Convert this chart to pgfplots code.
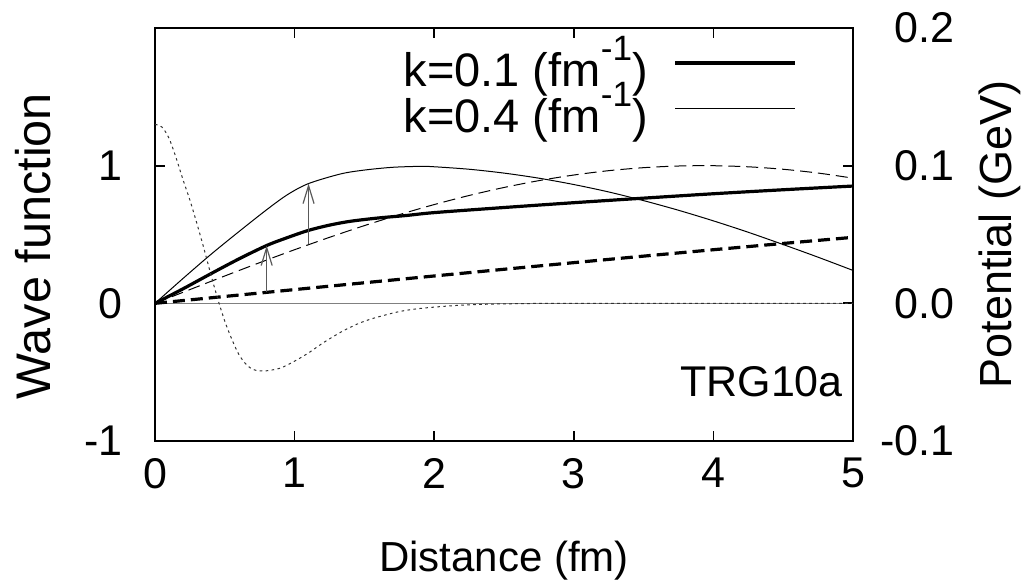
\documentclass[border=0pt]{standalone}
\usepackage{fontspec}
\setmainfont{Liberation Sans}
\usepackage{pgfplots}
\pgfplotsset{compat=1.18}
\usetikzlibrary{arrows.meta}
\newcommand{\bigf}{\fontsize{21}{25}\selectfont}
\newcommand{\tickf}{\fontsize{21.5}{25}\selectfont}
\newcommand{\legf}{\fontsize{23.5}{27}\selectfont}
\newcommand{\supr}[1]{\raisebox{13.3pt}{\fontsize{17.6}{20}\selectfont #1}}
\begin{document}
\begin{tikzpicture}[font=\bigf]
\useasboundingbox (-77.5pt,-70.5pt) rectangle (434pt,220.5pt);
\begin{axis}[
  at={(0pt,0pt)}, anchor=south west,
  scale only axis, width=349pt, height=206.5pt,
  xmin=0, xmax=5, ymin=-1, ymax=2,
  xtick={0,1,2,3,4,5}, xticklabels={0,1,2,3,4,5},
  ytick={-1,0,1}, yticklabels={-1,0,1},
  ytick pos=left,
  tick align=inside,
  major tick length=5pt,
  axis line style={line width=0.9pt},
  every tick/.style={black, line width=0.9pt},
  tick label style={font=\tickf},
  xticklabel style={anchor=north, inner sep=0pt, yshift=-8.5pt},
  yticklabel style={anchor=east, inner sep=0pt, xshift=-16pt},
  xlabel={Distance (fm)},
  xlabel style={font=\bigf, at={(axis description cs:0.5,-0.3172)}, anchor=base, inner sep=0pt},
  ylabel={Wave function},
  ylabel style={font=\fontsize{24.3}{28}\selectfont, at={(axis description cs:-0.1504,0.472)}, anchor=base, inner sep=0pt},
  legend style={draw=none, fill=none, at={(axis description cs:0.9198,0.9806)}, anchor=north east,
    inner sep=0pt, outer sep=0pt, row sep=-3.9pt, column sep=13pt, nodes={inner sep=0pt}, font=\legf},
  legend cell align=right,
  legend plot pos=right,
  legend image code/.code={\draw[#1] (0pt,0pt) -- (60pt,0pt);},
]
% zero line
\addplot[forget plot, gray, line width=0.6pt] coordinates {(0,0) (5,0)};
% free waves (dashed)
\addplot[forget plot, black, line width=1.6pt, dash pattern=on 6pt off 3pt] coordinates {
(0,0) (0.5,0.0500) (1.0,0.0998) (1.5,0.1494) (2.0,0.1987) (2.5,0.2474) (3.0,0.2955) (3.5,0.3429) (4.0,0.3894) (4.5,0.4350) (5.0,0.4794)};
\addplot[forget plot, black, line width=0.5pt, dash pattern=on 6pt off 3pt, smooth] coordinates {
(0,0) (0.25,0.0998) (0.5,0.1987) (0.75,0.2955) (1.0,0.3894) (1.25,0.4794) (1.5,0.5646) (1.75,0.6442) (2.0,0.7174) (2.25,0.7833) (2.5,0.8415) (2.75,0.8912) (3.0,0.9320) (3.25,0.9636) (3.5,0.9854) (3.75,0.9975) (4.0,0.9996) (4.25,0.9917) (4.5,0.9738) (4.75,0.9463) (5.0,0.9093)};
% interacting waves
\addplot[black, line width=1.6pt, smooth] coordinates {
(0,0) (0.2,0.105) (0.4,0.215) (0.6,0.322) (0.8,0.42) (0.95,0.478) (1.1,0.53) (1.25,0.568) (1.4,0.596) (1.6,0.62) (1.8,0.638) (2.0,0.659) (2.5,0.696) (3.0,0.731) (3.5,0.764) (4.0,0.796) (4.5,0.825) (5.0,0.852)};
\addlegendentry{k=0.1 (fm\supr{-1})}
\addplot[black, line width=0.5pt, smooth] coordinates {
(0,0) (0.2,0.18) (0.4,0.355) (0.6,0.52) (0.8,0.68) (0.95,0.79) (1.1,0.87) (1.33,0.94) (1.5,0.968) (1.7,0.988) (1.9,0.995) (2.0,0.992) (2.25,0.974) (2.5,0.946) (2.75,0.909) (3.0,0.863) (3.25,0.809) (3.5,0.746) (3.75,0.676) (4.0,0.599) (4.25,0.516) (4.5,0.427) (4.75,0.335) (5.0,0.239)};
\addlegendentry{k=0.4 (fm\supr{-1})}
% arrows
\addplot[forget plot, gray!70!black, line width=0.6pt, -{Straight Barb[length=9pt,width=5.5pt]}] coordinates {(0.8,0.08) (0.8,0.42)};
\addplot[forget plot, gray!70!black, line width=0.6pt, -{Straight Barb[length=9pt,width=5.5pt]}] coordinates {(1.1,0.43) (1.1,0.87)};
\node[anchor=base east, inner sep=0pt, font=\fontsize{21.5}{25}\selectfont] at (axis cs:4.93,-0.68) {TRG10a};
\end{axis}
\begin{axis}[
  at={(0pt,0pt)}, anchor=south west,
  scale only axis, width=349pt, height=206.5pt,
  xmin=0, xmax=5, ymin=-0.1, ymax=0.2,
  hide x axis,
  ytick pos=right,
  ytick={-0.1,0,0.1,0.2}, yticklabels={-0.1,0.0,0.1,0.2},
  tick align=inside,
  major tick length=5pt,
  axis line style={line width=0.9pt},
  every tick/.style={black, line width=0.9pt},
  tick label style={font=\tickf},
  yticklabel style={anchor=east, inner sep=0pt, xshift=51pt},
  ylabel={Potential (GeV)},
  ylabel style={font=\fontsize{22.5}{26}\selectfont, at={(axis description cs:1.2264,0.5)}, anchor=base, inner sep=0pt},
]
\addplot[black!80, line width=0.5pt, dash pattern=on 1.3pt off 1.7pt, smooth] coordinates {
(0,0.130) (0.05,0.128) (0.1,0.120) (0.15,0.106) (0.2,0.090) (0.25,0.075) (0.3,0.058) (0.35,0.040) (0.4,0.021) (0.45,0.003) (0.5,-0.013) (0.55,-0.026) (0.6,-0.037) (0.65,-0.044) (0.7,-0.048) (0.75,-0.049) (0.8,-0.049) (0.9,-0.047) (1.0,-0.042) (1.1,-0.036) (1.2,-0.029) (1.33,-0.021) (1.45,-0.015) (1.56,-0.011) (1.75,-0.006) (1.92,-0.0035) (2.2,-0.0013) (2.5,-0.0004) (3.0,0) (5.0,0)};
\end{axis}
\end{tikzpicture}
\end{document}
